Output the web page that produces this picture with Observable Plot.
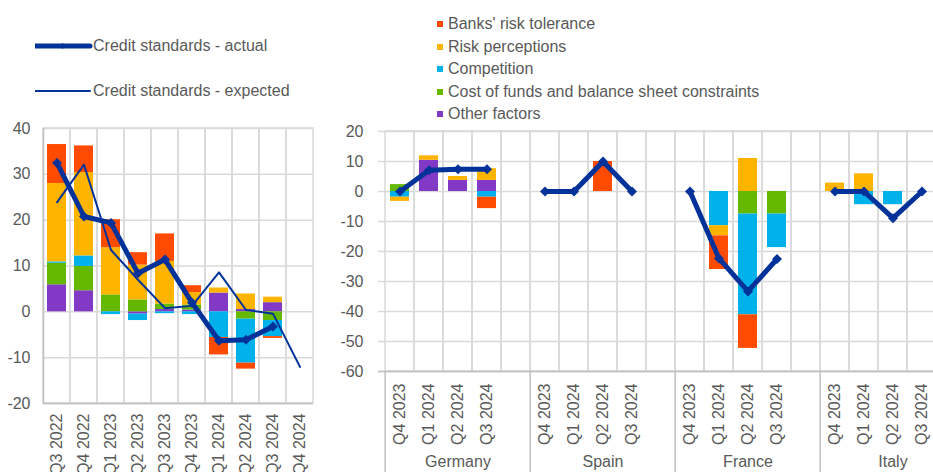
<!DOCTYPE html>
<html>
<head>
<meta charset="utf-8">
<script src="https://cdn.jsdelivr.net/npm/d3@7"></script>
<script src="https://cdn.jsdelivr.net/npm/@observablehq/plot@0.6"></script>
<style>
html, body { margin: 0; padding: 0; overflow: hidden; background: #fff; }
#wrap { position: relative; width: 933px; height: 472px; overflow: hidden; font-family: "Liberation Sans", Arial, sans-serif; color: #595959; }
#wrap svg.plot { position: absolute; top: 0; }
.leg { position: absolute; font-size: 16px; line-height: 18px; white-space: nowrap; color: #595959; display: flex; align-items: center; }
.leg svg { display: block; }
</style>
</head>
<body>
<div id="wrap"></div>
<script>
// ---------- DATA ----------
const factorNames = ["Other factors", "Cost of funds and balance sheet constraints", "Competition", "Risk perceptions", "Banks' risk tolerance"];
const factorColors = ["#8139C6", "#65B800", "#00B1EA", "#FFB400", "#FF4B00"];
const lineColor = "#003299";

// Euro area panel
const euroQuarters = ["Q3 2022", "Q4 2022", "Q1 2023", "Q2 2023", "Q3 2023", "Q4 2023", "Q1 2024", "Q2 2024", "Q3 2024", "Q4 2024"];
const eaOther    = [5.9, 4.6, 0,    -0.5, 0.5,  0.4,  4.1,  0.5,  2.0,  null];
const eaCost     = [4.7, 5.3, 3.7,  2.6,  1.2,  1.1,  0,    -1.6, -1.9, null];
const eaComp     = [0.3, 2.3, -0.6, -1.4, -0.4, -0.6, -5.6, -9.6, -3.5, null];
const eaRiskPerc = [17.1, 18.2, 10.3, 7.6, 9.3, 2.7,  1.1,  3.4,  1.2,  null];
const eaTol      = [8.5, 5.8, 6.1,  2.7,  6.0,  1.5,  -3.8, -1.3, -0.4, null];
const eaActual   = [32.5, 20.8, 19.4, 8.4, 11.4, 2.0, -6.3, -6.1, -3.2, null];
const eaExpected = [23.9, 32.1, 13.5, 7.0, 0.8, 1.3, 8.6, 0.4, -0.4, -12.0];
const eaYDomain = [-20, 40];
const eaYTicks = [-20, -10, 0, 10, 20, 30, 40];

// Country panel (4 quarters per country, in country order)
const countries = ["Germany", "Spain", "France", "Italy"];
const countryQuarters = ["Q4 2023", "Q1 2024", "Q2 2024", "Q3 2024"];
const ctyOther    = [0, 10.4, 3.7, 3.7,   0, 0, 0, 0,     0, 0, 0, 0,          0, 0, 0, 0];
const ctyCost     = [2.3, 0, 0, 0,        0, 0, 0, 0,     0, 0, -7.5, -7.5,    0, 0, 0, 0];
const ctyComp     = [-1.9, 0, 0, -1.9,    0, 0, 0, 0,     0, -11.4, -33.6, -11.2, 0, -4.4, -4.4, 0];
const ctyRiskPerc = [-1.4, 1.5, 1.3, 3.9, 0, 0, 0, 0,     0, -3.4, 11.0, 0,    2.8, 5.9, 0, 0];
const ctyTol      = [0, 0, 0, -3.8,       0, 0, 10, 0,    0, -11.2, -11.2, 0,  0, 0, 0, 0];
const ctyActual   = [0, 7.1, 7.4, 7.4,    0, 0, 10, 0,    0, -22.3, -33.3, -22.5, 0, 0, -8.9, 0];
const ctyYDomain = [-60, 20];
const ctyYTicks = [-60, -50, -40, -30, -20, -10, 0, 10, 20];

// ---------- BUILD ROWS ----------
const eaFactors = [eaOther, eaCost, eaComp, eaRiskPerc, eaTol];
const eaRows = [];
euroQuarters.forEach((q, i) => eaFactors.forEach((arr, k) => {
  const v = arr[i];
  if (v != null && v !== 0) eaRows.push({q, factor: factorNames[k], v});
}));
const eaActualRows = euroQuarters.map((q, i) => ({q, v: eaActual[i]})).filter(d => d.v != null);
const eaExpectedRows = euroQuarters.map((q, i) => ({q, v: eaExpected[i]})).filter(d => d.v != null);

const slotKey = (c, q) => c + "|" + q;
const slotKeys = countries.flatMap(c => [...countryQuarters.map(q => slotKey(c, q)), slotKey(c, "gap")]);
const quarterKeys = countries.flatMap(c => countryQuarters.map(q => slotKey(c, q)));
const ctyFactors = [ctyOther, ctyCost, ctyComp, ctyRiskPerc, ctyTol];
const ctyRows = [];
const ctyActualRows = [];
countries.forEach((c, ci) => countryQuarters.forEach((q, qi) => {
  const i = ci * countryQuarters.length + qi;
  ctyFactors.forEach((arr, k) => {
    const v = arr[i];
    if (v != null && v !== 0) ctyRows.push({key: slotKey(c, q), factor: factorNames[k], v});
  });
  ctyActualRows.push({key: slotKey(c, q), country: c, v: ctyActual[i]});
}));

// ---------- STYLE ----------
const gridColor = "#d9d9d9";
const axisColor = "#bfbfbf";
const baseStyle = {fontFamily: '"Liberation Sans", Arial, sans-serif', fontSize: "16px", color: "#595959", background: "transparent", overflow: "visible"};
const color = {domain: factorNames, range: factorColors};
const numFmt = d => `${d}`;

// ---------- LEFT PANEL (euro area) ----------
const L = {left: 0, width: 323, marginLeft: 43, marginRight: 10, marginTop: 128, marginBottom: 69};
const lStep = (L.width - L.marginLeft - L.marginRight) / euroQuarters.length;
const leftPlot = Plot.plot({
  width: L.width, height: 472,
  marginLeft: L.marginLeft, marginRight: L.marginRight, marginTop: L.marginTop, marginBottom: L.marginBottom,
  style: baseStyle,
  x: {type: "band", domain: euroQuarters, padding: 0, axis: null, label: null},
  y: {domain: eaYDomain, axis: null, label: null},
  color,
  marks: [
    Plot.gridY(eaYTicks, {stroke: gridColor, strokeOpacity: 1, strokeWidth: 1.5}),
    Plot.barY(euroQuarters, {x: d => d, y1: eaYDomain[0], y2: eaYDomain[1], fill: "none", stroke: gridColor, strokeWidth: 1.5}),
    Plot.barY(eaRows, {x: "q", y: "v", fill: "factor", insetLeft: 4, insetRight: 4}),
    Plot.ruleY([eaYDomain[0]], {stroke: axisColor, strokeWidth: 1.5}),
    Plot.ruleX([euroQuarters[0]], {dx: -lStep / 2, stroke: axisColor, strokeWidth: 1.5}),
    Plot.line(eaActualRows, {x: "q", y: "v", stroke: lineColor, strokeWidth: 5, strokeLinejoin: "round"}),
    Plot.dot(eaActualRows, {x: "q", y: "v", symbol: "diamond2", r: 4.5, fill: lineColor, stroke: "none"}),
    Plot.line(eaExpectedRows, {x: "q", y: "v", stroke: lineColor, strokeWidth: 2}),
    Plot.axisY(eaYTicks, {tickSize: 0, tickPadding: 13, fontSize: 16, label: null, tickFormat: numFmt}),
    Plot.axisX({tickSize: 0, tickPadding: 10, tickRotate: -90, fontSize: 16, label: null})
  ]
});
leftPlot.classList.add("plot");
leftPlot.style.left = L.left + "px";

// ---------- RIGHT PANEL (countries) ----------
const R = {left: 330, width: 644, marginLeft: 48, marginRight: 2, marginTop: 131, marginBottom: 101};
const rStep = (R.width - R.marginLeft - R.marginRight) / slotKeys.length;
const rightPlot = Plot.plot({
  width: R.width, height: 472,
  marginLeft: R.marginLeft, marginRight: R.marginRight, marginTop: R.marginTop, marginBottom: R.marginBottom,
  style: baseStyle,
  x: {type: "band", domain: slotKeys, padding: 0, axis: null, label: null},
  y: {domain: ctyYDomain, axis: null, label: null},
  color,
  marks: [
    Plot.gridY(ctyYTicks, {stroke: gridColor, strokeOpacity: 1, strokeWidth: 1.5}),
    Plot.barY(slotKeys, {x: d => d, y1: ctyYDomain[0], y2: ctyYDomain[1], fill: "none", stroke: gridColor, strokeWidth: 1.5}),
    Plot.barY(ctyRows, {x: "key", y: "v", fill: "factor", insetLeft: 5, insetRight: 5}),
    Plot.ruleY([ctyYDomain[0]], {stroke: axisColor, strokeWidth: 1.5}),
    Plot.axisX(countries.map(c => slotKey(c, countryQuarters[0])), {tickSize: R.marginBottom, tickFormat: () => "", dx: -rStep / 2, stroke: axisColor, strokeWidth: 1.5, label: null}),
    Plot.line(ctyActualRows, {x: "key", y: "v", z: "country", stroke: lineColor, strokeWidth: 5, strokeLinejoin: "round"}),
    Plot.dot(ctyActualRows, {x: "key", y: "v", symbol: "diamond2", r: 4.5, fill: lineColor, stroke: "none"}),
    Plot.axisY(ctyYTicks, {tickSize: 0, tickPadding: 15, fontSize: 16, label: null, tickFormat: numFmt}),
    Plot.axisX(quarterKeys, {tickSize: 0, tickPadding: 12, tickRotate: -90, fontSize: 16, label: null, tickFormat: k => k.split("|")[1]}),
    Plot.text(countries, {x: c => slotKey(c, countryQuarters[2]), text: d => d, frameAnchor: "bottom", dy: 95, fontSize: 16, fill: "#595959"})
  ]
});
rightPlot.classList.add("plot");
rightPlot.style.left = R.left + "px";

const wrap = document.getElementById("wrap");
wrap.appendChild(leftPlot);
wrap.appendChild(rightPlot);

// ---------- LEGENDS ----------
function addLegend(html, x, yCenter) {
  const d = document.createElement("div");
  d.className = "leg";
  d.style.left = x + "px";
  d.style.top = (yCenter - 9) + "px";
  d.innerHTML = html;
  wrap.appendChild(d);
}
const lineLegend = [
  {label: "Credit standards - actual", width: 5, marker: true, y: 46},
  {label: "Credit standards - expected", width: 2, marker: false, y: 91}
];
lineLegend.forEach(l => {
  addLegend(`<svg width="58" height="18"><line x1="0" x2="55" y1="9" y2="9" stroke="${lineColor}" stroke-width="${l.width}" stroke-linecap="round"/>${l.marker ? `<path d="M27.5,6L30.5,9L27.5,12L24.5,9Z" fill="${lineColor}"/>` : ""}</svg><span>${l.label}</span>`, 35, l.y);
});
const legendRows = [4, 3, 2, 1, 0];
legendRows.forEach((k, i) => {
  addLegend(`<svg width="11" height="18"><rect x="0" y="6" width="6" height="6" fill="${factorColors[k]}"/></svg><span>${factorNames[k]}</span>`, 437, 24 + i * 22.5);
});
</script>
</body>
</html>
